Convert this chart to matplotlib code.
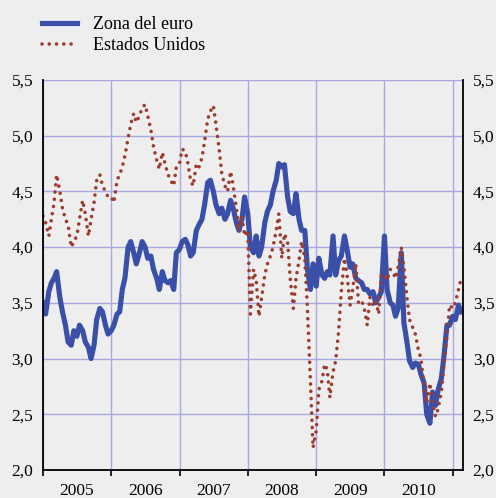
import numpy as np
import pandas as pd
import matplotlib
matplotlib.use('Agg')
import matplotlib.pyplot as plt
import matplotlib.dates as mdates
from matplotlib.ticker import FuncFormatter, NullFormatter

plt.rcParams['font.family'] = ['Liberation Serif', 'DejaVu Serif']

# Semi-monthly readings (1st and 15th of each month)
euro_2005 = [3.5, 3.4, 3.6, 3.68, 3.72, 3.78, 3.55, 3.42, 3.3, 3.15, 3.12, 3.25,
             3.2, 3.3, 3.25, 3.15, 3.1, 3.0, 3.12, 3.35, 3.45, 3.42, 3.3, 3.22]
euro_2006 = [3.25, 3.3, 3.4, 3.42, 3.62, 3.72, 4.0, 4.05, 3.95, 3.85, 3.95, 4.05,
             4.0, 3.9, 3.92, 3.8, 3.72, 3.62, 3.78, 3.7, 3.68, 3.7, 3.62, 3.95]
euro_2007 = [3.98, 4.05, 4.07, 4.02, 3.92, 3.95, 4.15, 4.2, 4.25, 4.38, 4.58, 4.6,
             4.5, 4.38, 4.3, 4.35, 4.25, 4.3, 4.42, 4.35, 4.22, 4.15, 4.25, 4.45]
euro_2008 = [4.3, 4.0, 3.95, 4.1, 3.92, 4.0, 4.22, 4.32, 4.38, 4.5, 4.6, 4.75,
             4.72, 4.74, 4.45, 4.32, 4.3, 4.48, 4.25, 4.15, 4.15, 3.8, 3.62, 3.85]
euro_2009 = [3.65, 3.9, 3.75, 3.72, 3.78, 3.75, 4.1, 3.75, 3.88, 3.92, 4.1, 3.98,
             3.82, 3.85, 3.72, 3.7, 3.68, 3.62, 3.62, 3.58, 3.6, 3.5, 3.55, 3.6]
euro_2010 = [4.1, 3.62, 3.5, 3.48, 3.38, 3.45, 3.95, 3.32, 3.15, 2.98, 2.92, 2.96,
             2.95, 2.86, 2.78, 2.5, 2.42, 2.7, 2.58, 2.72, 2.82, 3.02, 3.3, 3.3]
euro_2011 = [3.38, 3.35, 3.48, 3.42]

us_2005 = [4.28, 4.22, 4.1, 4.25, 4.4, 4.65, 4.5, 4.35, 4.25, 4.2, 4.0, 4.05,
           4.1, 4.25, 4.42, 4.3, 4.1, 4.25, 4.4, 4.6, 4.65, 4.55, 4.5, 4.45]
us_2006 = [4.45, 4.4, 4.6, 4.65, 4.72, 4.82, 4.98, 5.1, 5.2, 5.12, 5.18, 5.25,
           5.28, 5.18, 5.05, 4.9, 4.78, 4.7, 4.85, 4.75, 4.65, 4.6, 4.55, 4.72]
us_2007 = [4.75, 4.88, 4.86, 4.75, 4.6, 4.55, 4.75, 4.72, 4.8, 4.95, 5.15, 5.22,
           5.27, 5.1, 4.88, 4.66, 4.55, 4.5, 4.68, 4.55, 4.35, 4.15, 4.28, 4.1]
us_2008 = [4.15, 3.4, 3.8, 3.7, 3.38, 3.55, 3.75, 3.85, 3.92, 4.0, 4.15, 4.3,
           3.9, 4.12, 4.05, 3.72, 3.45, 3.72, 3.88, 4.05, 3.9, 3.45, 2.8, 2.2]
us_2009 = [2.35, 2.72, 2.8, 2.95, 2.9, 2.65, 2.88, 2.98, 3.25, 3.6, 3.9, 3.75,
           3.48, 3.62, 3.85, 3.5, 3.52, 3.45, 3.3, 3.55, 3.48, 3.52, 3.4, 3.75]
us_2010 = [3.75, 3.7, 3.8, 3.78, 3.72, 3.82, 4.0, 3.82, 3.55, 3.35, 3.28, 3.22,
           3.08, 3.0, 2.75, 2.6, 2.78, 2.62, 2.48, 2.55, 2.7, 2.95, 3.2, 3.48]
us_2011 = [3.45, 3.5, 3.62, 3.72]

euro = euro_2005 + euro_2006 + euro_2007 + euro_2008 + euro_2009 + euro_2010 + euro_2011
us = us_2005 + us_2006 + us_2007 + us_2008 + us_2009 + us_2010 + us_2011
dates = pd.date_range('2005-01-01', periods=len(euro), freq='SMS')

bg = '#eeeeee'
fig = plt.figure(figsize=(4.96, 4.98), dpi=100, facecolor=bg)
ax = fig.add_axes([0.0867, 0.0562, 0.8468, 0.7832])
ax.set_facecolor(bg)

ax.plot(dates, euro, color='#3a50a8', lw=3.7, solid_joinstyle='round',
        label='Zona del euro')
ax.plot(dates, us, color='#9c3b2e', lw=2.6, linestyle=(0, (0.01, 2.0)),
        dash_capstyle='round', label='Estados Unidos')

ax.set_ylim(2.0, 5.5)
ax.set_xlim(pd.Timestamp('2005-01-01'), pd.Timestamp('2011-02-25'))
ax.set_yticks(np.arange(2.0, 5.51, 0.5))
ax.yaxis.set_major_formatter(FuncFormatter(lambda v, p: f'{v:.1f}'.replace('.', ',')))
ax.tick_params(axis='y', length=0, labelsize=12.5, labelleft=True, labelright=True, pad=7)

ax.xaxis.set_major_locator(mdates.YearLocator())
ax.xaxis.set_major_formatter(NullFormatter())
ax.xaxis.set_minor_locator(mdates.MonthLocator(bymonth=7))
ax.xaxis.set_minor_formatter(mdates.DateFormatter('%Y'))
ax.tick_params(axis='x', which='major', length=4, width=1.2, direction='out')
ax.tick_params(axis='x', which='minor', length=0, labelsize=12.5, pad=9)

ax.grid(True, which='major', color='#a9a9e2', lw=1)
ax.set_axisbelow(True)
ax.spines['top'].set_visible(False)
for s in ['left', 'right', 'bottom']:
    ax.spines[s].set_color('black')
    ax.spines[s].set_linewidth(1.3)

fig.legend(loc='upper left', bbox_to_anchor=(0.085, 0.967), frameon=False, fontsize=13,
           handlelength=1.95, handletextpad=0.85, labelspacing=0.2,
           borderpad=0, borderaxespad=0)

fig.savefig('out.png', dpi=100, facecolor=bg)
